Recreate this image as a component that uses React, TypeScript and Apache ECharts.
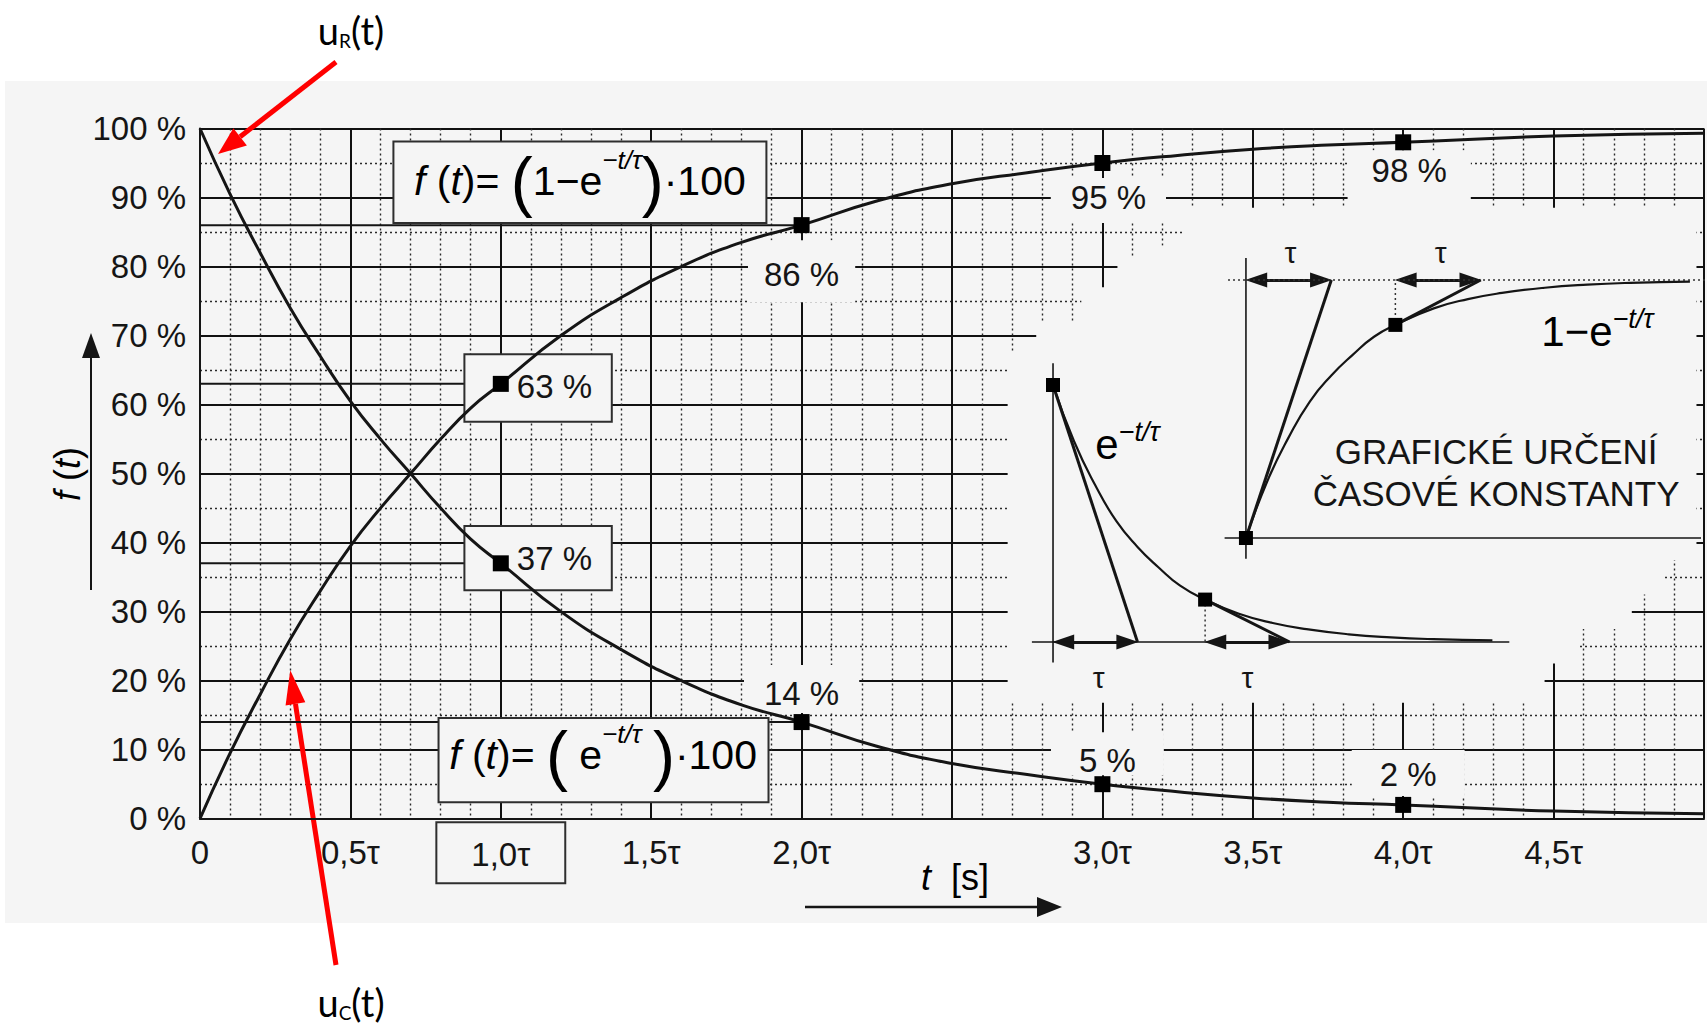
import React, { useEffect, useRef } from "react";
import * as echarts from "echarts";

const PAPER = "#f5f5f5";
const INK = "#151515";
const FONT = "Liberation Sans, Arial, sans-serif";
const HAND = "Lato, 'Open Sans', sans-serif";

// Time in multiples of τ and the two responses in per cent
const timeTau = [0, 0.1, 0.2, 0.3, 0.4, 0.5, 0.6, 0.7, 0.8, 0.9, 1.0, 1.2, 1.4, 1.6, 1.8, 2.0, 2.25, 2.5, 2.75, 3.0, 3.25, 3.5, 3.75, 4.0, 4.5, 5.0];
const chargePct = [0, 9.5, 18, 26, 33, 39.5, 45, 50, 55, 59.5, 63, 70, 75.5, 80, 83.5, 86, 89.5, 92, 93.6, 95, 96.1, 97, 97.6, 98, 98.9, 99.3];
const dischargePct = [100, 90.5, 82, 74, 67, 60.5, 55, 50, 45, 40.5, 37, 30, 24.5, 20, 16.5, 14, 10.5, 8, 6.4, 5, 3.9, 3, 2.4, 2, 1.1, 0.7];

// Marked points at whole multiples of τ
const markTau = [1, 1, 2, 2, 3, 3, 4, 4];
const markPct = [63, 37, 86, 14, 95, 5, 98, 2];
const markText = ["63 %", "37 %", "86 %", "14 %", "95 %", "5 %", "98 %", "2 %"];

// Horizontal guide lines drawn from the axis to a marked point
const guidePct = [63, 37, 86, 14];
const guideTau = [1, 1, 2, 2];

// Axis tick texts
const xTickText: Record<string, string> = {
  "0": "0", "0.5": "0,5τ", "1": "{box|1,0τ}", "1.5": "1,5τ", "2": "2,0τ",
  "2.5": "", "3": "3,0τ", "3.5": "3,5τ", "4": "4,0τ", "4.5": "4,5τ", "5": "",
};

// Inset sketches (time in τ, normalised value)
const decayTau = [0, 0.25, 0.5, 0.75, 1, 1.25, 1.5, 1.8, 2.2, 2.6, 3, 3.5, 4, 4.5, 5.2];
const decayVal = [1, 0.78, 0.61, 0.47, 0.37, 0.29, 0.22, 0.165, 0.11, 0.074, 0.05, 0.03, 0.018, 0.011, 0.006];
const riseTau = [0, 0.25, 0.5, 0.75, 1, 1.25, 1.5, 1.75, 2.2, 2.6, 3, 3.5, 4, 4.5, 5.2];
const riseVal = [0, 0.22, 0.39, 0.53, 0.63, 0.71, 0.78, 0.826, 0.89, 0.926, 0.95, 0.97, 0.982, 0.989, 0.994];
const decayMarkTau = [0, 1.8];
const decayMarkVal = [1, 0.165];
const riseMarkTau = [0, 1.75];
const riseMarkVal = [0, 0.826];

// Outline of the blank area behind the insets (t in τ, value in %)
const blankOutline: number[][] = [
  [4.975, 88.5], [4.975, 37.5], [4.87, 37.5], [4.87, 32.5], [4.76, 32.5], [4.76, 27.5],
  [4.58, 27.5], [4.58, 22.5], [4.47, 22.5], [4.47, 16.8], [2.685, 16.8], [2.685, 67.5],
  [2.78, 67.5], [2.78, 72], [2.93, 72], [2.93, 77], [3.05, 77], [3.05, 81.5],
  [3.15, 81.5], [3.15, 83], [3.27, 83], [3.27, 88.5],
];
// Framed note boxes [t0, v0, t1, v1]
const noteBoxes: number[][] = [
  [0.643, 98.1, 1.883, 86.3],
  [0.793, 14.6, 1.89, 2.4],
  [0.879, 67.3, 1.369, 57.5],
  [0.879, 42.4, 1.369, 33.1],
];

const labelStyles: any[] = [
  { position: "right", distance: 8, offset: [0, 3] },
  { position: "right", distance: 8, offset: [0, -5] },
  { position: "bottom", distance: 7, padding: [19, 16, 13, 16], backgroundColor: PAPER },
  { position: "top", distance: 1, padding: [13, 20, 5, 20], backgroundColor: PAPER },
  { position: "bottom", distance: 7, padding: [4, 20, 11, 20], backgroundColor: PAPER, offset: [6, 0] },
  { position: "top", distance: 1, padding: [13, 28, 0, 28], backgroundColor: PAPER, offset: [5, 0] },
  { position: "bottom", distance: 0, padding: [5, 24, 23, 24], backgroundColor: PAPER, offset: [6, 0] },
  { position: "top", distance: 1, padding: [10, 28, 6, 28], backgroundColor: PAPER, offset: [5, 0] },
];

const formulaRich = {
  n: { fontSize: 41, fontFamily: FONT, color: INK, lineHeight: 68 },
  i: { fontSize: 41, fontFamily: FONT, fontStyle: "italic", color: INK, lineHeight: 68 },
  p: { fontSize: 66, fontFamily: FONT, color: INK, lineHeight: 68 },
  s: { fontSize: 26, fontFamily: FONT, fontStyle: "italic", color: INK, lineHeight: 28, verticalAlign: "top" },
};
const supRich = {
  n: { fontSize: 42, fontFamily: FONT, color: INK, lineHeight: 52 },
  s: { fontSize: 27, fontFamily: FONT, fontStyle: "italic", color: INK, lineHeight: 24, verticalAlign: "top" },
};

const pairs = (xs: number[], ys: number[]) => xs.map((x, i) => [x, ys[i]]);

function mainNotes(_params: any, api: any) {
  const pt = (x: number, y: number) => api.coord([x, y]);
  const children: any[] = [];
  children.push({
    type: "polygon",
    shape: { points: blankOutline.map(([x, y]) => pt(x, y)) },
    style: { fill: PAPER, stroke: null },
  });
  noteBoxes.forEach((b) => {
    const a = pt(b[0], b[1]);
    const c = pt(b[2], b[3]);
    children.push({
      type: "rect",
      shape: { x: a[0], y: a[1], width: c[0] - a[0], height: c[1] - a[1] },
      style: { fill: PAPER, stroke: "#2e2e2e", lineWidth: 2 },
    });
  });
  const f1 = pt(1.263, 92.4);
  children.push({
    type: "text", x: f1[0], y: f1[1],
    style: { text: "{i|f }{n|(}{i|t}{n|)= }{p|(}{n|1−e}{s|−t/τ}{p|)}{n|·100}", rich: formulaRich, align: "center", verticalAlign: "middle" },
  });
  const f2 = pt(1.34, 9.2);
  children.push({
    type: "text", x: f2[0], y: f2[1],
    style: { text: "{i|f }{n|(}{i|t}{n|)= }{p|(}{n| e}{s|−t/τ}{n| }{p|)}{n|·100}", rich: formulaRich, align: "center", verticalAlign: "middle" },
  });
  return { type: "group", children };
}

function decayNotes(_params: any, api: any) {
  const a = api.coord([0.54, -0.14]);
  const b = api.coord([2.3, -0.14]);
  const e = api.coord([0.5, 0.77]);
  const tau = { fontSize: 30, fontFamily: FONT, fill: INK, align: "center", verticalAlign: "middle" };
  return {
    type: "group",
    children: [
      { type: "text", x: a[0], y: a[1], style: { ...tau, text: "τ" } },
      { type: "text", x: b[0], y: b[1], style: { ...tau, text: "τ" } },
      { type: "text", x: e[0], y: e[1], style: { text: "{n|e}{s|−t/τ}", rich: supRich, align: "left", verticalAlign: "middle" } },
    ],
  };
}

function riseNotes(_params: any, api: any) {
  const a = api.coord([0.52, 1.108]);
  const b = api.coord([2.28, 1.108]);
  const e = api.coord([3.46, 0.8]);
  const t = api.coord([2.93, 0.252]);
  const tau = { fontSize: 30, fontFamily: FONT, fill: INK, align: "center", verticalAlign: "middle" };
  return {
    type: "group",
    children: [
      { type: "text", x: a[0], y: a[1], style: { ...tau, text: "τ" } },
      { type: "text", x: b[0], y: b[1], style: { ...tau, text: "τ" } },
      { type: "text", x: e[0], y: e[1], style: { text: "{n|1−e}{s|−t/τ}", rich: supRich, align: "left", verticalAlign: "middle" } },
      {
        type: "text", x: t[0], y: t[1],
        style: { text: "GRAFICKÉ URČENÍ\nČASOVÉ KONSTANTY", fontSize: 35, lineHeight: 42, fontFamily: FONT, fill: INK, align: "center", verticalAlign: "middle" },
      },
    ],
  };
}

function insetSeries(idx: number, curve: number[][], marks: number[][], tangents: number[][][], drops: number[][][], arrows: number[][][], asymptote: boolean) {
  const list: any[] = [];
  const base = { xAxisIndex: idx, yAxisIndex: idx, symbol: "none", silent: true };
  list.push({ ...base, type: "line", z: 6, data: [[-0.25, 0], [asymptote ? 5.33 : 5.4, 0]], lineStyle: { color: INK, width: 1.6 } });
  list.push({ ...base, type: "line", z: 6, data: [[0, -0.08], [0, 1.085]], lineStyle: { color: INK, width: 1.6 } });
  if (asymptote) {
    list.push({ ...base, type: "line", z: 6, data: [[-0.21, 1], [5.4, 1]], lineStyle: { color: "#333", width: 1.6, type: [2, 3] } });
  }
  list.push({ ...base, type: "line", z: 7, smooth: true, data: curve, lineStyle: { color: INK, width: 2.2 } });
  drops.forEach((d) => list.push({ ...base, type: "line", z: 6, data: d, lineStyle: { color: "#333", width: 1.5, type: [2, 3] } }));
  tangents.forEach((tg, k) =>
    list.push({
      ...base, type: "line", z: 7, data: tg, lineStyle: { color: INK, width: 3 },
      markLine: k === 0 ? {
        silent: true, symbol: ["triangle", "triangle"], symbolSize: [15, 22],
        label: { show: false }, lineStyle: { color: INK, width: 3, type: "solid" },
        data: arrows.map((ar) => [{ coord: ar[0] }, { coord: ar[1] }]),
      } : undefined,
    })
  );
  list.push({ ...base, type: "scatter", z: 8, symbol: "rect", symbolSize: 14, data: marks, itemStyle: { color: "#000", opacity: 1 } });
  return list;
}

function buildOption(): any {
  const noAxis = { show: false, type: "value" };
  return {
    animation: false,
    backgroundColor: "#ffffff",
    grid: [
      { left: 200, top: 128.5, width: 1508, height: 690.2 },
      { left: 1031.9, top: 333.6, width: 477.4, height: 359.8 },
      { left: 1224.6, top: 228.4, width: 483.1, height: 361.2 },
    ],
    xAxis: [
      {
        type: "value", gridIndex: 0, min: 0, max: 5, interval: 0.5,
        axisLine: { show: true, onZero: false, lineStyle: { color: INK, width: 2 } },
        axisTick: { show: false },
        axisLabel: {
          fontSize: 33, fontFamily: FONT, color: INK, margin: 15, lineHeight: 38,
          formatter: (v: number) => xTickText[String(v)] ?? "",
          rich: {
            box: {
              fontSize: 33, fontFamily: FONT, color: INK, lineHeight: 38,
              borderColor: "#2e2e2e", borderWidth: 2, padding: [15, 34, 11, 34], backgroundColor: PAPER,
            },
          },
        },
        splitLine: { show: true, lineStyle: { color: "#111", width: 2 } },
        minorTick: { show: false, splitNumber: 5 },
        minorSplitLine: { show: true, lineStyle: { color: "#2a2a2a", width: 1.4, type: [2, 3] } },
      },
      { ...noAxis, gridIndex: 1, min: -0.25, max: 5.4 },
      { ...noAxis, gridIndex: 2, min: -0.25, max: 5.4 },
    ],
    yAxis: [
      {
        type: "value", gridIndex: 0, min: 0, max: 100, interval: 10,
        axisLine: { show: true, onZero: false, lineStyle: { color: INK, width: 2 } },
        axisTick: { show: false },
        axisLabel: { fontSize: 33, fontFamily: FONT, color: INK, margin: 14, formatter: (v: number) => `${v} %` },
        splitLine: { show: true, lineStyle: { color: "#111", width: 2 } },
        minorTick: { show: false, splitNumber: 2 },
        minorSplitLine: { show: true, lineStyle: { color: "#2a2a2a", width: 1.4, type: [2, 3] } },
      },
      { ...noAxis, gridIndex: 1, min: -0.2, max: 1.2 },
      { ...noAxis, gridIndex: 2, min: -0.2, max: 1.2 },
    ],
    series: [
      ...guidePct.map((v, i) => ({
        type: "line", xAxisIndex: 0, yAxisIndex: 0, z: 1, symbol: "none", silent: true,
        data: [[0, v], [guideTau[i], v]], lineStyle: { color: INK, width: 2 },
      })),
      {
        type: "custom", xAxisIndex: 0, yAxisIndex: 0, z: 2, silent: true, clip: false,
        data: [[0, 0]], encode: { x: 0, y: 1 }, renderItem: mainNotes,
      },
      {
        name: "nabíjení", type: "line", xAxisIndex: 0, yAxisIndex: 0, z: 4, smooth: true, symbol: "none",
        data: pairs(timeTau, chargePct), lineStyle: { color: INK, width: 3 },
      },
      {
        name: "vybíjení", type: "line", xAxisIndex: 0, yAxisIndex: 0, z: 4, smooth: true, symbol: "none",
        data: pairs(timeTau, dischargePct), lineStyle: { color: INK, width: 3 },
      },
      {
        type: "scatter", xAxisIndex: 0, yAxisIndex: 0, z: 3, silent: true, symbol: "rect", symbolSize: 16,
        itemStyle: { color: "rgba(0,0,0,0)", opacity: 1 },
        data: markTau.map((t, i) => ({
          value: [t, markPct[i]],
          label: {
            show: true, formatter: markText[i], fontSize: 33, fontFamily: FONT, color: INK, lineHeight: 30,
            ...labelStyles[i],
          },
        })),
      },
      {
        type: "scatter", xAxisIndex: 0, yAxisIndex: 0, z: 5, silent: true, symbol: "rect", symbolSize: 16,
        itemStyle: { color: "#000", opacity: 1 }, data: pairs(markTau, markPct),
      },
      ...insetSeries(1, pairs(decayTau, decayVal), pairs(decayMarkTau, decayMarkVal),
        [[[0, 1], [1, 0]], [[1.8, 0.165], [2.8, 0]]],
        [[[1.8, 0.165], [1.8, 0]]],
        [[[0.12, 0], [0.88, 0]], [[1.92, 0], [2.68, 0]]], false),
      ...insetSeries(2, pairs(riseTau, riseVal), pairs(riseMarkTau, riseMarkVal),
        [[[0, 0], [1, 1]], [[1.75, 0.826], [2.75, 1]]],
        [[[1.75, 0.826], [1.75, 1]]],
        [[[0.12, 1], [0.88, 1]], [[1.87, 1], [2.63, 1]]], true),
      {
        type: "custom", xAxisIndex: 1, yAxisIndex: 1, z: 8, silent: true, clip: false,
        data: [[0, 0]], encode: { x: 0, y: 1 }, renderItem: decayNotes,
      },
      {
        type: "custom", xAxisIndex: 2, yAxisIndex: 2, z: 8, silent: true, clip: false,
        data: [[0, 0]], encode: { x: 0, y: 1 }, renderItem: riseNotes,
      },
    ],
  };
}

function head(from: number[], tip: number[], len: number, half: number) {
  const dx = tip[0] - from[0];
  const dy = tip[1] - from[1];
  const L = Math.hypot(dx, dy);
  const ux = dx / L;
  const uy = dy / L;
  const bx = tip[0] - ux * len;
  const by = tip[1] - uy * len;
  return {
    base: [bx, by],
    points: [tip, [bx - uy * half, by + ux * half], [bx + uy * half, by - ux * half]],
  };
}

function arrow(from: number[], tip: number[], len: number, half: number, color: string, width: number) {
  const h = head(from, tip, len, half);
  return [
    { type: "line", shape: { x1: from[0], y1: from[1], x2: h.base[0], y2: h.base[1] }, style: { stroke: color, lineWidth: width } },
    { type: "polygon", shape: { points: h.points }, style: { fill: color } },
  ];
}

function buildGraphics(toPx: (p: number[]) => number[]) {
  const red = "#ff0000";
  const uLabel = (sub: string, x: number, y: number) => ({
    type: "text", x, y,
    style: {
      text: `{u|u}{s|${sub}}{u|(t)}`, align: "center", verticalAlign: "middle",
      rich: {
        u: { fontSize: 38, fontFamily: HAND, color: "#000", lineHeight: 40 },
        s: { fontSize: 19, fontFamily: HAND, color: "#000", lineHeight: 26, verticalAlign: "bottom" },
      },
    },
  });
  return [
    { type: "rect", z: -10, shape: { x: 5, y: 81, width: 1702, height: 842 }, style: { fill: PAPER } },
    // y axis title and arrow
    {
      type: "text", x: 67, y: 474, rotation: Math.PI / 2,
      style: {
        text: "{i|f}{n| (}{i|t}{n|)}", align: "center", verticalAlign: "middle",
        rich: {
          i: { fontSize: 36, fontFamily: FONT, fontStyle: "italic", color: INK },
          n: { fontSize: 36, fontFamily: FONT, color: INK },
        },
      },
    },
    ...arrow([91, 590], [91, 333], 25, 9, INK, 2),
    // x axis title and arrow
    {
      type: "text", x: 955, y: 877,
      style: {
        text: "{i|t}{n|  [s]}", align: "center", verticalAlign: "middle",
        rich: {
          i: { fontSize: 36, fontFamily: FONT, fontStyle: "italic", color: INK },
          n: { fontSize: 36, fontFamily: FONT, color: INK },
        },
      },
    },
    ...arrow([805, 907], [1062, 907], 25, 10, INK, 2.5),
    // voltage labels
    uLabel("R", 351, 30),
    ...arrow([336, 62], toPx([0.06, 96.3]), 28, 11, red, 5),
    uLabel("C", 351, 1002),
    ...arrow([336, 965], toPx([0.3, 21.5]), 34, 10, red, 5),
  ];
}

export default function App() {
  const ref = useRef<HTMLDivElement>(null);
  useEffect(() => {
    const el = ref.current;
    if (!el) return;
    const chart = echarts.init(el, null, { renderer: "svg" });
    chart.setOption(buildOption());
    const toPx = (p: number[]) => chart.convertToPixel({ gridIndex: 0 }, p) as number[];
    chart.setOption({ graphic: buildGraphics(toPx) });
    return () => chart.dispose();
  }, []);
  return (
    <div
      ref={ref}
      style={{ position: "fixed", left: 0, top: 0, width: 1707, height: 1029, background: "#fff" }}
    />
  );
}
